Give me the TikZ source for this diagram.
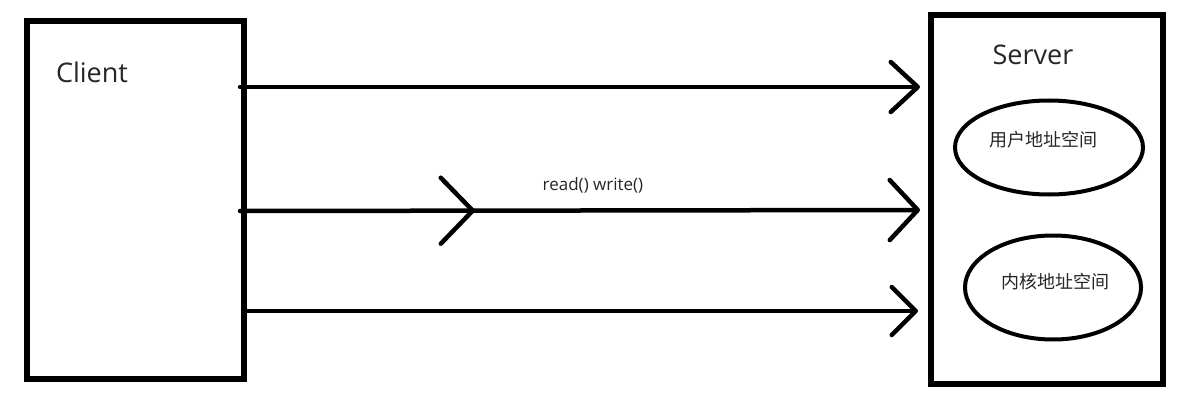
\documentclass[tikz,border=0pt]{standalone}
\usepackage{fontspec}
\setmainfont{Open Sans}
\newfontfamily\cjk{Noto Sans CJK SC}
\usetikzlibrary{arrows.meta,decorations.markings,shapes.geometric}
\begin{document}
\begin{tikzpicture}[x=1pt,y=-1pt,
  box/.style={draw=black,line width=5.5pt,rectangle,inner sep=0pt},
  addrspace/.style={draw=black,line width=4pt,ellipse,inner sep=0pt},
  conn/.style={draw=black,line width=4.5pt,line cap=round},
  lbl/.style={inner sep=0pt,text=black!85},
  tipA/.style={-{Straight Barb[length=27pt,width=50pt,line width=4.5pt,round]}},
  tipB/.style={-{Straight Barb[length=28pt,width=60pt,line width=4.5pt,round]}},
  tipC/.style={-{Straight Barb[length=24pt,width=48pt,line width=4.5pt,round]}}]
\useasboundingbox[fill=white] (0,0) rectangle (1183,401);
\node[box,minimum width=217pt,minimum height=358pt] (client) at (135.5,200) {};
\node[box,minimum width=232pt,minimum height=369pt] (server) at (1047,199.5) {};
\node[addrspace,minimum width=188pt,minimum height=94pt] (user) at (1049,147.5) {};
\node[addrspace,minimum width=176pt,minimum height=104pt] (kernel) at (1053,287.5) {};
\node[lbl,font=\fontsize{27}{30}\selectfont] (clientlbl) at (92,72) {Client};
\node[lbl,font=\fontsize{27}{30}\selectfont] (serverlbl) at (1033,55) {Server};
\node[lbl,font=\cjk\fontsize{18}{20}\selectfont] (userlbl) at (1043,140) {用户地址空间};
\node[lbl,font=\cjk\fontsize{18}{20}\selectfont] (kernellbl) at (1055,282) {内核地址空间};
\node[lbl,font=\fontsize{17}{20}\selectfont] (rw) at (593,185) {read() write()};
% connectors
\coordinate (s1) at (240,87);   \coordinate (e1) at (920,87);
\coordinate (s2) at (240,211);  \coordinate (e2) at (920,210);
\coordinate (s3) at (247,311);  \coordinate (e3) at (918,311);
\draw[conn,tipA] (s1) -- (e1);
\draw[conn,tipB,postaction={decorate},
  decoration={markings,mark=at position 0.3456 with {\arrow{Straight Barb[length=32pt,width=66pt,line width=4.5pt,round]}}}] (s2) -- (e2);
\draw[conn,tipC] (s3) -- (e3);
\end{tikzpicture}
\end{document}
